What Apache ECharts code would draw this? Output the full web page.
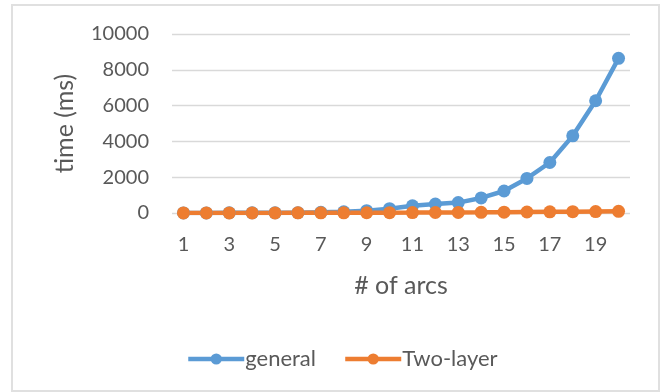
<!DOCTYPE html>
<html><head><meta charset="utf-8">
<script src="https://cdn.jsdelivr.net/npm/echarts@6/dist/echarts.min.js"></script>
<style>html,body{margin:0;padding:0;background:#fff}#c{width:662px;height:392px}
#frame{position:absolute;left:11px;top:4px;width:645px;height:384px;border:2px solid #e0e0e0;pointer-events:none}</style>
</head><body><div id="c"></div><div id="frame"></div>
<script>
const categories = ['1','2','3','4','5','6','7','8','9','10','11','12','13','14','15','16','17','18','19','20'];
const general = [5, 6, 8, 10, 12, 20, 35, 65, 130, 240, 400, 500, 580, 840, 1230, 1930, 2820, 4310, 6270, 8640];
const twoLayer = [2, 3, 4, 5, 6, 8, 10, 12, 15, 18, 22, 28, 34, 40, 48, 56, 64, 72, 82, 92];
const yTicks = { min: 0, max: 10000, interval: 2000 };

const font = 'Lato';
const grey = '#595959';
const chart = echarts.init(document.getElementById('c'));
chart.setOption({
  animation: false,
  textStyle: { fontFamily: font },
  grid: { left: 172, right: 32, top: 34, bottom: 179 },
  legend: {
    top: 343, left: 181, itemGap: 27, itemWidth: 56, itemHeight: 14,
    lineStyle: { width: 4.5 },
    textStyle: { fontSize: 22, color: grey, fontFamily: font, padding: [0, 0, 0, -4] },
    data: ['general', 'Two-layer']
  },
  xAxis: {
    type: 'category', data: categories, boundaryGap: true,
    name: '# of arcs', nameLocation: 'middle', nameGap: 60,
    nameTextStyle: { fontSize: 25, color: grey, fontFamily: font },
    axisLine: { show: false }, axisTick: { show: false },
    axisLabel: { interval: 1, fontSize: 20, color: grey, margin: 22, fontFamily: font }
  },
  yAxis: {
    type: 'value', min: yTicks.min, max: yTicks.max, interval: yTicks.interval,
    name: 'time (ms)', nameLocation: 'middle', nameGap: 95, nameRotate: 90,
    nameTextStyle: { fontSize: 25, color: grey, fontFamily: font },
    axisLine: { show: false }, axisTick: { show: false },
    axisLabel: { fontSize: 20, color: grey, margin: 23, fontFamily: font, formatter: v => String(v) },
    splitLine: { lineStyle: { color: '#d9d9d9', width: 1.3 } }
  },
  series: [
    { name: 'general', type: 'line', data: general, symbol: 'circle', symbolSize: 13,
      itemStyle: { color: '#5B9BD5' }, lineStyle: { width: 4.5, color: '#5B9BD5' } },
    { name: 'Two-layer', type: 'line', data: twoLayer, symbol: 'circle', symbolSize: 13,
      itemStyle: { color: '#ED7D31' }, lineStyle: { width: 4.5, color: '#ED7D31' } }
  ]
});
</script></body></html>
